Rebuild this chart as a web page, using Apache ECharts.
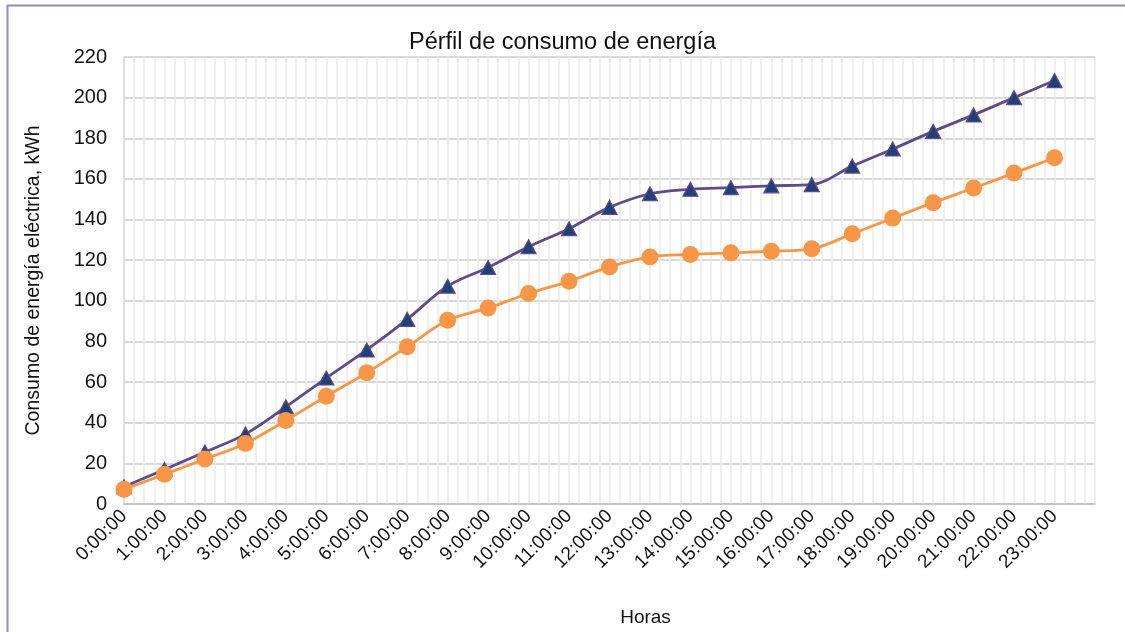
<!DOCTYPE html>
<html>
<head>
<meta charset="utf-8">
<title>Pérfil de consumo de energía</title>
<script src="https://cdn.jsdelivr.net/npm/echarts@6/dist/echarts.min.js"></script>
<style>
  html, body { margin: 0; padding: 0; background: #ffffff; }
  #chart { width: 1125px; height: 632px; }
</style>
</head>
<body>
<div id="chart"></div>
<script>
// Hours of the day (0 .. 23)
const horas = [0, 1, 2, 3, 4, 5, 6, 7, 8, 9, 10, 11, 12, 13, 14, 15, 16, 17, 18, 19, 20, 21, 22, 23];

// Accumulated consumption, kWh (triangle series)
const consumoSerie1 = [8.5, 17.0, 25.6, 34.4, 47.8, 62.0, 75.8, 90.9, 107.2, 116.4, 126.6, 135.5, 146.0, 152.7, 154.9, 155.7, 156.6, 157.2, 166.3, 174.7, 183.4, 191.5, 200.0, 208.4];

// Accumulated consumption, kWh (circle series)
const consumoSerie2 = [7.2, 14.6, 22.1, 29.8, 41.1, 53.0, 64.6, 77.4, 90.4, 96.5, 103.6, 109.6, 116.7, 121.6, 122.8, 123.6, 124.4, 125.6, 133.0, 140.7, 148.3, 155.5, 162.9, 170.4];

// Y axis ticks
const yMin = 0, yMax = 220, yStep = 20;

const FONT = '"Liberation Sans", Arial, sans-serif';

const pares = (vals) => horas.map((h, i) => [h, vals[i]]);

const chart = echarts.init(document.getElementById('chart'), null, { renderer: 'canvas' });

chart.setOption({
  backgroundColor: '#ffffff',
  animation: false,
  title: {
    text: 'Pérfil de consumo de energía',
    left: 'center',
    top: 26,
    textStyle: { fontFamily: FONT, fontSize: 23.5, fontWeight: 'normal', color: '#111111' }
  },
  graphic: [{
    type: 'rect',
    left: 5, top: 3,
    shape: { width: 1140, height: 660 },
    style: { fill: 'none', stroke: '#9a88b4', lineWidth: 2 },
    silent: true,
    z: 100
  }],
  grid: { left: 124, right: 30, top: 57, bottom: 123, containLabel: false },
  xAxis: {
    type: 'value',
    min: 0, max: 24, interval: 1,
    name: 'Horas',
    nameLocation: 'middle',
    nameGap: 104,
    nameTextStyle: { fontFamily: FONT, fontSize: 19, color: '#111111', padding: [0, 0, 0, 72] },
    axisLine: { show: true, lineStyle: { color: '#bfbfbf', width: 1.5 } },
    axisTick: { show: false },
    axisLabel: {
      rotate: 45,
      margin: 9,
      fontFamily: FONT, fontSize: 19, color: '#111111',
      formatter: (v) => (v < 24 ? v + ':00:00' : '')
    },
    splitLine: { show: true, lineStyle: { color: '#eaeaea', width: 1.5 } },
    minorTick: { show: false, splitNumber: 4 },
    minorSplitLine: { show: true, lineStyle: { color: '#eaeaea', width: 1.5 } }
  },
  yAxis: {
    type: 'value',
    min: yMin, max: yMax, interval: yStep,
    name: 'Consumo de energía eléctrica, kWh',
    nameLocation: 'middle',
    nameGap: 80,
    nameTextStyle: { fontFamily: FONT, fontSize: 19.5, color: '#111111' },
    axisLine: { show: true, lineStyle: { color: '#d9d9d9', width: 1.5 } },
    axisTick: { show: false },
    axisLabel: { margin: 17, fontFamily: FONT, fontSize: 20, color: '#111111' },
    splitLine: { show: true, lineStyle: { color: '#d9d9d9', width: 2 } }
  },
  series: [
    {
      name: 'Serie 1',
      type: 'line',
      data: pares(consumoSerie1),
      smooth: 0.35,
      symbol: 'triangle',
      symbolSize: [15, 14],
      lineStyle: { color: '#5f4a8b', width: 2.8 },
      itemStyle: { color: '#233f78', borderColor: '#5f4a8b', borderWidth: 1.2 },
      z: 2
    },
    {
      name: 'Serie 2',
      type: 'line',
      data: pares(consumoSerie2),
      smooth: 0.35,
      symbol: 'circle',
      symbolSize: 17,
      lineStyle: { color: '#f79646', width: 2.8 },
      itemStyle: { color: '#f79646', borderColor: '#f79646', borderWidth: 0 },
      z: 3
    }
  ]
});
</script>
</body>
</html>
